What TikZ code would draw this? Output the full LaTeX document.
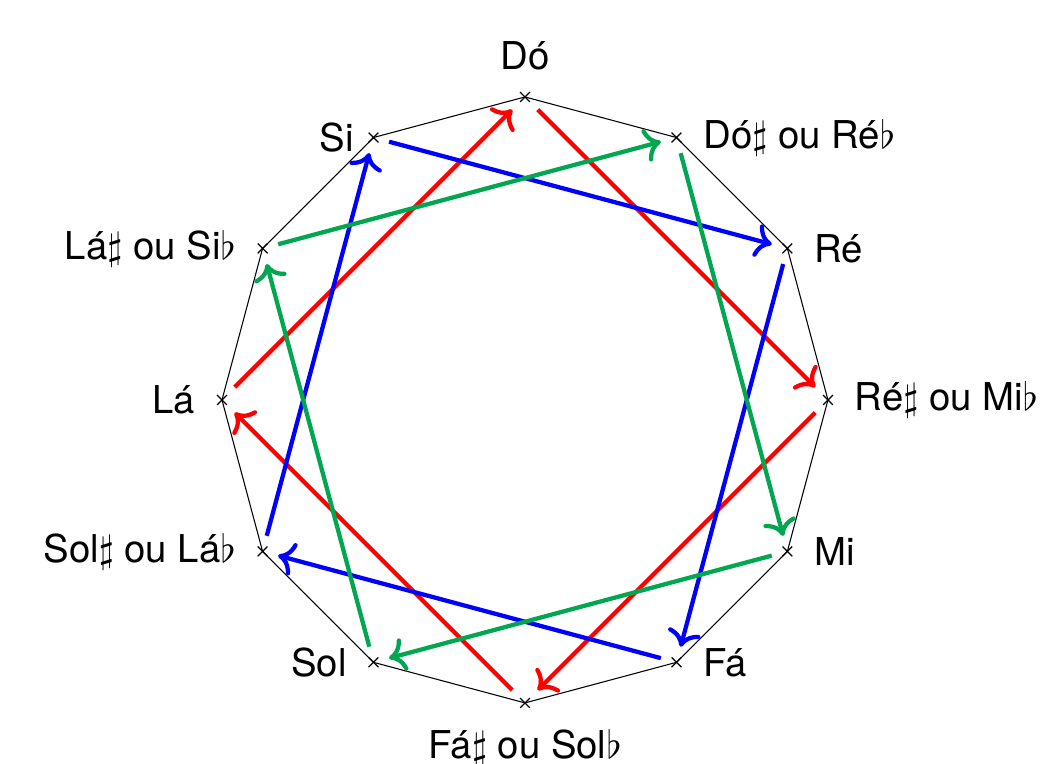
\documentclass[tikz,border=0pt]{standalone}
\usepackage{fontspec}
\setmainfont{TeX Gyre Heros}
\usepackage{tikz}
\usetikzlibrary{shapes.misc, arrows.meta, positioning}

\definecolor{notegreen}{RGB}{0,166,80}

\begin{document}
\begin{tikzpicture}[
    node distance=3pt,
    vertex/.style={cross out, draw, inner sep=0pt, minimum size=2.4pt,
                   line width=0.35pt},
    note/.style={font=\fontsize{10.8}{13}\selectfont, inner sep=3pt},
    edge/.style={line width=0.3pt},
    arrow/.style={-{To[length=1.6mm, width=3.3mm]}, line width=1.2pt,
                  shorten <=1.1mm, shorten >=1.1mm},
]
\useasboundingbox (-5.198,-3.604) rectangle (5.139,3.960);

% ── Vertices ──
\node[vertex] (do)    at (90:3)   {};
\node[vertex] (dos)   at (60:3)   {};
\node[vertex] (re)    at (30:3)   {};
\node[vertex] (res)   at (0:3)    {};
\node[vertex] (mi)    at (-30:3)  {};
\node[vertex] (fa)    at (-60:3)  {};
\node[vertex] (fas)   at (-90:3)  {};
\node[vertex] (sol)   at (-120:3) {};
\node[vertex] (sols)  at (-150:3) {};
\node[vertex] (la)    at (180:3)  {};
\node[vertex] (las)   at (150:3)  {};
\node[vertex] (si)    at (120:3)  {};

% ── Polygon ──
\draw[edge] (do.center) -- (dos.center) -- (re.center) -- (res.center)
  -- (mi.center) -- (fa.center) -- (fas.center) -- (sol.center)
  -- (sols.center) -- (la.center) -- (las.center) -- (si.center) -- cycle;

% ── Labels ──
\node[note, above=of do] (ldo) {Dó};
\node[note, right=of dos] (ldos) {Dó$\sharp$ ou Ré$\flat$};
\node[note, right=of re] (lre) {Ré};
\node[note, right=of res] (lres) {Ré$\sharp$ ou Mi$\flat$};
\node[note, right=of mi] (lmi) {Mi};
\node[note, right=of fa] (lfa) {Fá};
\node[note, below=of fas] (lfas) {Fá$\sharp$ ou Sol$\flat$};
\node[note, left=of sol] (lsol) {Sol};
\node[note, left=of sols] (lsols) {Sol$\sharp$ ou Lá$\flat$};
\node[note, left=of la] (lla) {Lá};
\node[note, left=of las] (llas) {Lá$\sharp$ ou Si$\flat$};
\node[note, left=1pt of si] (lsi) {Si};

% ── Arrows ──
\draw[arrow, red] (la) -- (do);
\draw[arrow, red] (do) -- (res);
\draw[arrow, red] (res) -- (fas);
\draw[arrow, red] (fas) -- (la);

\draw[arrow, blue] (si) -- (re);
\draw[arrow, blue] (re) -- (fa);
\draw[arrow, blue] (fa) -- (sols);
\draw[arrow, blue] (sols) -- (si);

\draw[arrow, notegreen] (dos) -- (mi);
\draw[arrow, notegreen] (mi) -- (sol);
\draw[arrow, notegreen] (sol) -- (las);
\draw[arrow, notegreen] (las) -- (dos);

\end{tikzpicture}
\end{document}
